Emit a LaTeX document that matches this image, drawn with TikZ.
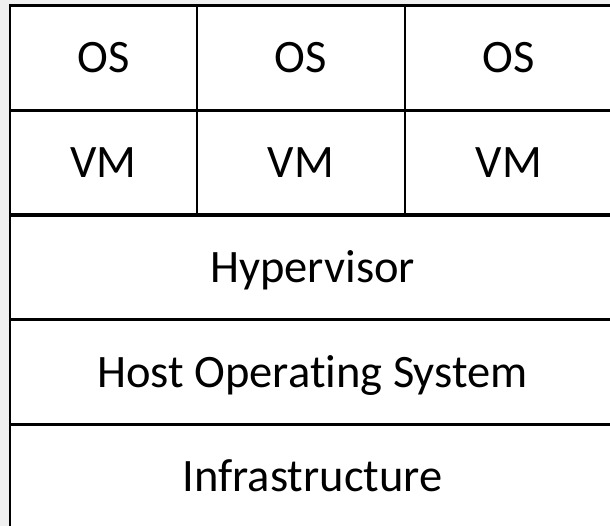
\documentclass[tikz,border=0pt]{standalone}
\usepackage{fontspec}
\setmainfont{Carlito}[Ligatures={NoCommon}]
\usepackage{tikz}
\usetikzlibrary{positioning}

\definecolor{pagegray}{HTML}{F0F0F0}

\tikzset{
  cell/.style={draw=black, line width=2.7pt, fill=white, inner sep=0pt,
    text height=30pt, text depth=0pt,
    font=\fontsize{46.5}{50}\selectfont},
  narrow/.style={cell, minimum width=187pt, minimum height=104.5pt},
  middle/.style={cell, minimum width=208pt, minimum height=104.5pt},
  wide/.style={cell, minimum width=605pt, minimum height=104.5pt}
}

\begin{document}
\begin{tikzpicture}[x=1pt,y=-1pt]
  \fill[pagegray] (0,0) rectangle (610,526);
  \clip (0,0) rectangle (610,526);
  % guest systems
  \node[narrow] (os1) at (103.5,58) {OS};
  \node[middle] (os2) at (301,58) {OS};
  \node[middle] (os3) at (509,58) {OS};
  \node[narrow] (vm1) at (103.5,162.5) {VM};
  \node[middle] (vm2) at (301,162.5) {VM};
  \node[middle] (vm3) at (509,162.5) {VM};
  % shared layers
  \node[wide] (hyp) at (312.5,267.5) {Hypervisor};
  \node[wide] (host) at (312.5,372) {Host Operating System};
  \node[wide] (infra) at (312.5,476.5) {Infrastructure};
\end{tikzpicture}
\end{document}
